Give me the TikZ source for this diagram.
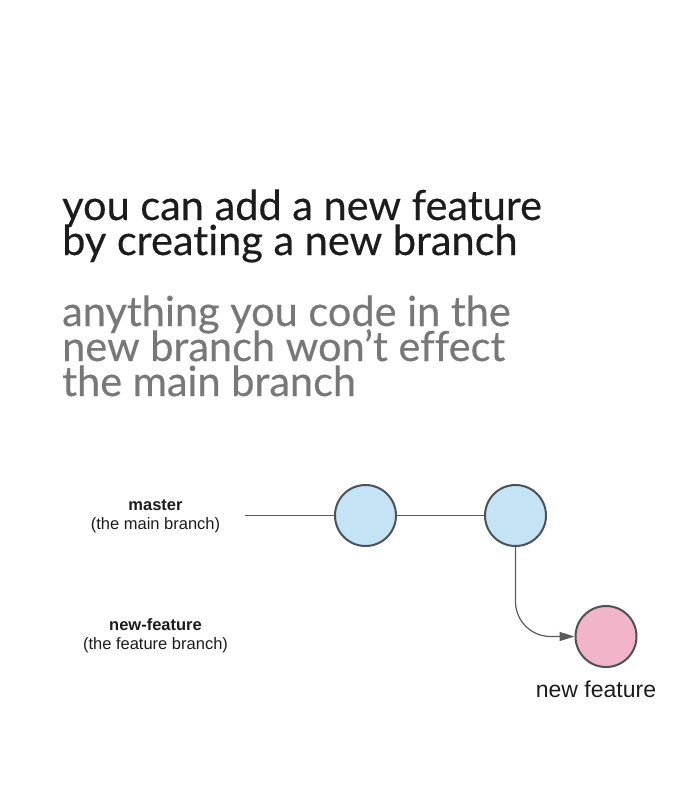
\documentclass[tikz,border=0pt]{standalone}
\usepackage{xcolor}
\usepackage{fontspec}
\usepackage{tikz}
\usetikzlibrary{calc,arrows.meta,positioning}
\newfontfamily\headfont[Ligatures={NoCommon},FakeBold=0.3]{Lato}
\newfontfamily\labfont{Liberation Sans}
\newcommand\headtype{\headfont\fontsize{41.5}{35}\selectfont\lineskiplimit=-100pt\relax}
\newcommand\labtype{\labfont\fontsize{16.5}{19}\selectfont\lineskiplimit=-100pt\relax}
\definecolor{inkdark}{HTML}{1C1C1C}
\definecolor{inkgray}{HTML}{787878}
\definecolor{ringgray}{HTML}{4C5257}
\definecolor{linegray}{HTML}{5A5A5A}
\definecolor{commitblue}{HTML}{C4E3F5}
\definecolor{commitpink}{HTML}{F2B4C8}
\tikzset{
  headline/.style = {anchor=base west, inner sep=0pt, align=left, font=\headtype},
  branchlabel/.style = {anchor=base, inner sep=0pt, align=center, font=\labtype, text=inkdark},
  commit/.style = {circle, draw=ringgray, line width=2pt, minimum size=61pt, inner sep=0pt},
  mastercommit/.style = {commit, fill=commitblue},
  featurecommit/.style = {commit, fill=commitpink},
  branchline/.style = {draw=linegray, line width=1.2pt}
}

\begin{document}
\begin{tikzpicture}[x=1pt,y=-1pt]
  \useasboundingbox[fill=white] (0,0) rectangle (695,800);
  % heading (anchored at the last baseline)
  \node[headline, text=inkdark] (title) at (62,255) {you can add a new feature\\by creating a new branch};
  \node[headline, text=inkgray] (subtitle) at (62,396) {anything you code in the\\new branch won’t effect\\the main branch};
  % branch names
  \node[branchlabel] (masterlab) at (155.5,529) {\textbf{master}\\(the main branch)};
  \node[branchlabel] (featurelab) at (155.5,649) {\textbf{new-feature}\\(the feature branch)};
  % commits
  \coordinate (mstart) at (245,515.5);
  \node[mastercommit] (c1) at (365.5,515.5) {};
  \node[mastercommit] (c2) at (515.5,515.5) {};
  \node[featurecommit] (f1) at (606,636.5) {};
  \node[anchor=base, inner sep=0pt, font=\labfont\fontsize{23}{26}\selectfont, text=inkdark] (f1lab) at (596,697) {new feature};
  \draw[branchline] (mstart) -- (c1.west);
  \draw[branchline] (c1.east) -- (c2.west);
  \draw[branchline, rounded corners=35pt, -{Triangle[length=15pt,width=9pt]}] (c2.south) |- (f1.west);
\end{tikzpicture}
\end{document}
